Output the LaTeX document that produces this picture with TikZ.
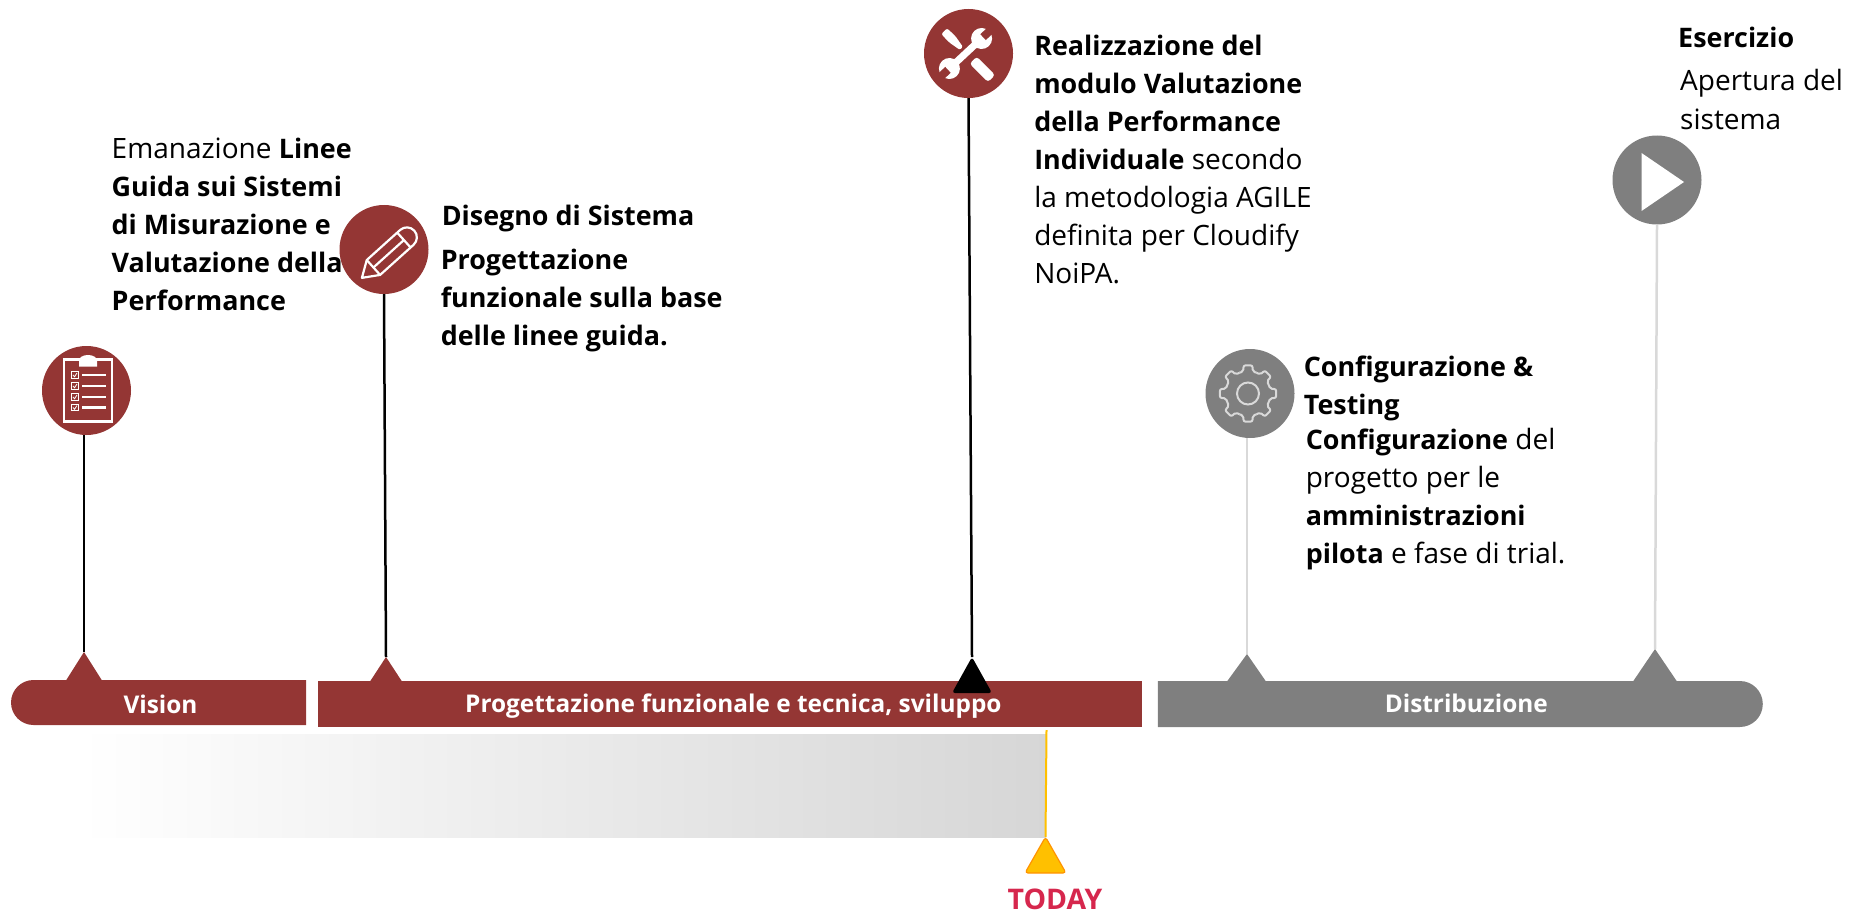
\documentclass[tikz,border=0pt]{standalone}
\usepackage{fontspec}
\setmainfont{Open Sans}[BoldFeatures={Scale=0.96}]
\usepackage{tikz}
\usetikzlibrary{positioning, shapes.geometric, shapes.misc}
\definecolor{maroon}{HTML}{943634}
\definecolor{midgray}{HTML}{7F7F7F}
\definecolor{lightpole}{HTML}{D9D9D9}
\definecolor{todayline}{HTML}{FFC000}
\definecolor{todayred}{HTML}{D6274D}
\tikzset{
	stage/.style={circle, fill=#1, minimum size=89pt, inner sep=0pt}, % the round icon holders
	bar/.style={fill=#1, inner sep=0pt, minimum height=46pt}, % the phase bands
	barlabel/.style={text=white, font=\bfseries\fontsize{25.4}{28}\selectfont, inner sep=0pt},
	body/.style={align=left, anchor=north west, inner sep=0pt, font=\fontsize{28}{38}\selectfont},
	pole/.style={line width=2.5pt, draw=#1},
	icon/.style={draw=white, line width=2.2pt, fill=none},
}
\begin{document}
\begin{tikzpicture}[x=1pt, y=-1pt, node distance=10pt]
	\useasboundingbox (0,0) rectangle (1849,912);

	% Define bands
	\node[bar=maroon, rounded rectangle, rounded rectangle east arc=none, minimum width=295pt, minimum height=45pt] (vision) at (158.5,702.5) {};
	\node[bar=maroon, rectangle, minimum width=824pt, right=12pt of vision.east, yshift=-1.5pt] (prog) {};
	\node[bar=midgray, rounded rectangle, rounded rectangle west arc=none, minimum width=605pt, right=15pt of prog] (distrib) {};
	\node[barlabel] (visiontxt) at ([xshift=2pt, yshift=-2pt]vision.center) {Vision};
	\node[barlabel] (progtxt) at ([xshift=3pt, yshift=-2.3pt]prog.center) {Progettazione funzionale e tecnica, sviluppo};
	\node[barlabel] (distribtxt) at ([xshift=6pt, yshift=1pt]distrib.center) {Distribuzione};

	% Tips standing on the bands
	\coordinate (tipa) at (84,652);
	\coordinate (tipb) at (386,657);
	\coordinate (tipc) at (972,657);
	\coordinate (tipd) at (1247,654);
	\coordinate (tipe) at (1655,649);
	\fill[maroon] (tipa) -- (66,680.5) -- (102,680.5) -- cycle;
	\fill[maroon] (tipb) -- (370,681.5) -- (402,681.5) -- cycle;
	\fill[midgray] (tipd) -- (1227,681.5) -- (1266,681.5) -- cycle;
	\fill[midgray] (tipe) -- (1633,681.5) -- (1677,681.5) -- cycle;
	\fill[black, rounded corners=3pt] (tipc) -- (952,693) -- (992,693) -- cycle;

	% Define stages
	\node[stage=maroon] (plan) at (86.5,390.5) {};
	\node[stage=maroon] (design) at (384,249.5) {};
	\node[stage=maroon] (build) at (968.5,53.5) {};
	\node[stage=midgray] (config) at (1250,393.5) {};
	\node[stage=midgray] (run) at (1657,180) {};

	% Poles
	\draw[pole=black] (plan.south -| tipa) -- (tipa);
	\draw[pole=black] (design.south) -- (tipb);
	\draw[pole=black] (build.south) -- (tipc);
	\draw[pole=lightpole] (config.south -| tipd) -- (tipd);
	\draw[pole=lightpole] (run.south) -- (tipe);

	% Texts
	\node[body, above right=34.5pt and 25pt of plan.north] (plantxt) {Emanazione \textbf{Linee}\\\textbf{Guida sui Sistemi}\\\textbf{di Misurazione e}\\\textbf{Valutazione della}\\\textbf{Performance}};
	\node[body, below right=-76pt and 26pt of design] (designhead) {\textbf{Disegno di Sistema}};
	\node[body, below=16.5pt of designhead.south west, anchor=north west, xshift=-1pt] (designtxt) {\textbf{Progettazione}\\\textbf{funzionale sulla base}\\\textbf{delle linee guida.}};
	\node[body, below right=-50pt and 34pt of build] (buildtxt) {\textbf{Realizzazione del}\\\textbf{modulo Valutazione}\\\textbf{della Performance}\\\textbf{Individuale} secondo\\la metodologia AGILE\\definita per Cloudify\\NoiPA.};
	\node[body, below right=-69pt and 22pt of config] (confighead) {\textbf{Configurazione \&}\\\textbf{Testing}};
	\node[body, below=6pt of confighead.south west, anchor=north west, xshift=2pt] (configtxt) {\textbf{Configurazione} del\\progetto per le\\\textbf{amministrazioni}\\\textbf{pilota} e fase di trial.};
	\node[body, anchor=north west] (runhead) at (1678,27) {\textbf{Esercizio}};
	\node[body, below=21pt of runhead.south west, anchor=north west, xshift=2pt, font=\fontsize{28}{39}\selectfont] (runtxt) {Apertura del\\sistema};

	% Today marker
	\shade[left color=white, right color=gray!32] (80,734) rectangle (1046,837);
	\coordinate (todaytop) at (1046.5,730);
	\coordinate (todaytip) at (1045.5,837);
	\draw[todayline, line width=2pt] (todaytop) -- (todaytip);
	\draw[draw=orange!70!todayline, fill=todayline, line width=1.2pt, line join=round, rounded corners=3pt] (todaytip) -- (1025,873) -- (1066,873) -- cycle;
	\node[font=\bfseries\fontsize{29.6}{30}\selectfont, text=todayred, inner sep=0pt] (today) at (1055,899) {TODAY};

	% Icons
	\begin{scope}[shift={(plan.center)}]
		\draw[icon] (-22.5,-31) rectangle (25.5,31);
		\fill[white] (-7.5,-24) -- (-7.5,-30) arc[start angle=180, end angle=360, x radius=9, y radius=5.5] -- (10.5,-24) -- cycle;
		\foreach \y in {-15.5,-4.5,6.5,17} {
			\draw[white, line width=0.8pt] (-15,\y-3.2) rectangle (-8.5,\y+3.2);
			\draw[white, line width=0.8pt] (-13.5,\y) -- (-12,\y+1.8) -- (-9.5,\y-2);
			\draw[white, line width=2.4pt] (-4.5,\y) -- (19,\y);
		}
	\end{scope}
	\begin{scope}[shift={([shift={(4.3,4.6)}]design.center)}, rotate=42]
		\draw[icon, line join=round] (-35.5,0) -- (-20,-10) -- (25,-10) arc[start angle=-90, end angle=90, radius=10] -- (-20,10) -- cycle;
		\draw[icon] (-20,-10) -- (-20,10);
		\draw[icon] (-20,0) -- (21,0);
		\draw[icon] (21,-10) -- (21,10);
	\end{scope}
	\begin{scope}[shift={([shift={(-1,1)}]build.center)}, rotate=-45]
		\fill[white, rounded corners=2pt] (-33,-4) -- (-22,-4.5) -- (-8,-2) -- (-8,2) -- (-22,4.5) -- (-33,4) -- cycle;
		\fill[white, rounded corners=3pt] (8,-5) rectangle (34,5);
	\end{scope}
	\begin{scope}[shift={([shift={(-3,0)}]build.center)}, rotate=43]
		\fill[maroon] (-21,-6.5) rectangle (21,6.5);
		\fill[white] (-22,-3.5) rectangle (22,3.5);
		\fill[white] (-22,0) circle (10.5);
		\fill[white] (22,0) circle (10.5);
		\fill[maroon] (24,-4) rectangle (34,4);
		\fill[maroon] (-24,-4) rectangle (-34,4);
	\end{scope}
	\begin{scope}[shift={([shift={(-2,0)}]config.center)}]
		\foreach \a in {0,45,...,315} {
			\draw[lightpole, line width=2pt, line join=round, rounded corners=2pt] (\a-22.5:22.5) -- (\a-12:22.5) -- (\a-9:28.5) -- (\a+9:28.5) -- (\a+12:22.5) -- (\a+22.5:22.5);
		}
		\draw[lightpole, line width=2pt] (0,0) circle (11);
	\end{scope}
	\fill[white] (1641.5,153) -- (1684,182) -- (1641.5,211) -- cycle;
\end{tikzpicture}
\end{document}
